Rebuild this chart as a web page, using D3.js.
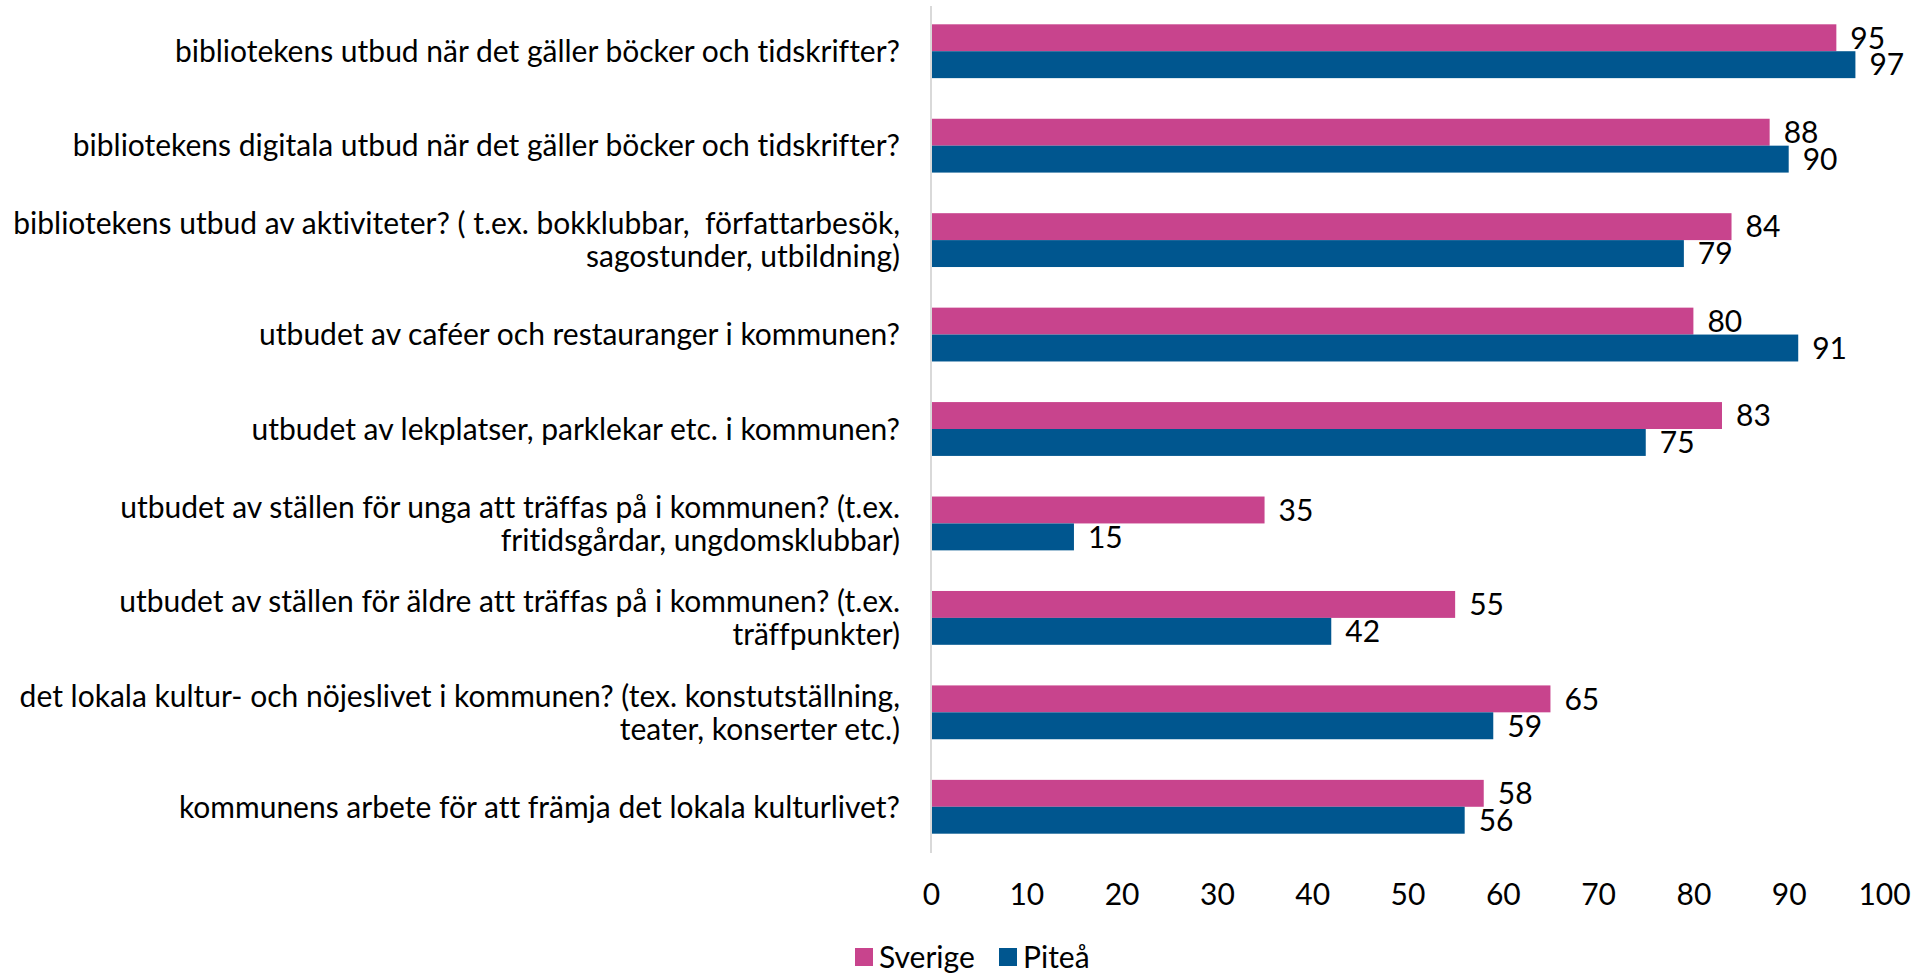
<!DOCTYPE html>
<html><head><meta charset="utf-8">
<script src="https://cdn.jsdelivr.net/npm/d3@7"></script>
<style>
html,body{margin:0;padding:0;background:#fff;}
svg text{font-family:"Lato","Open Sans",sans-serif;fill:#000;font-variant-ligatures:none;font-feature-settings:"liga" 0;}
</style></head>
<body><svg id="c" width="1911" height="973"></svg>
<script>
const categories = [
  "bibliotekens utbud när det gäller böcker och tidskrifter?",
  "bibliotekens digitala utbud när det gäller böcker och tidskrifter?",
  "bibliotekens utbud av aktiviteter? ( t.ex. bokklubbar,  författarbesök,\nsagostunder, utbildning)",
  "utbudet av caféer och restauranger i kommunen?",
  "utbudet av lekplatser, parklekar etc. i kommunen?",
  "utbudet av ställen för unga att träffas på i kommunen? (t.ex.\nfritidsgårdar, ungdomsklubbar)",
  "utbudet av ställen för äldre att träffas på i kommunen? (t.ex.\nträffpunkter)",
  "det lokala kultur- och nöjeslivet i kommunen? (tex. konstutställning,\nteater, konserter etc.)",
  "kommunens arbete för att främja det lokala kulturlivet?"
];
const seriesNames = ["Sverige", "Piteå"];
const sverige = [95, 88, 84, 80, 83, 35, 55, 65, 58];
const pitea = [97, 90, 79, 91, 75, 15, 42, 59, 56];
const tickValues = [0,10,20,30,40,50,60,70,80,90,100];
const colors = ["#C8448D", "#00568F"];

const svg = d3.select("#c");
const fs = 30;
const x = d3.scaleLinear().domain([0,100]).range([931,1884]);
const y = d3.scaleBand().domain(d3.range(categories.length)).range([4,854]).paddingInner(0.43).paddingOuter(0.215);
const ys = d3.scaleBand().domain(seriesNames).range([0,y.bandwidth()]);
const seriesVals = [sverige, pitea];

// axis line
svg.append("line").attr("x1",x(0)).attr("x2",x(0)).attr("y1",6).attr("y2",853)
  .attr("stroke","#D9D9D9").attr("stroke-width",2);

// bars
seriesNames.forEach((s,si)=>{
  const g = svg.append("g");
  g.selectAll("rect").data(seriesVals[si]).join("rect")
    .attr("x",x(0)+1).attr("y",(d,i)=>y(i)+ys(s))
    .attr("width",d=>x(d)-x(0)-1).attr("height",ys.bandwidth())
    .attr("fill",colors[si]);
  g.selectAll("text").data(seriesVals[si]).join("text")
    .attr("x",d=>x(d)+14).attr("y",(d,i)=>y(i)+ys(s)+ys.bandwidth()/2)
    .attr("dy","0.36em").attr("font-size",fs).text(d=>d);
});

// category labels
const lh = 33;
categories.forEach((c,i)=>{
  const lines = c.split("\n");
  const cy = y(i)+y.bandwidth()/2;
  const t = svg.append("text").attr("text-anchor","end").attr("font-size",fs);
  lines.forEach((l,j)=>{
    t.append("tspan").attr("x",900).attr("y",cy+(j-(lines.length-1)/2)*lh).attr("dy","0.36em")
      .style("white-space","pre").text(l);
  });
});

// x axis
const ax = svg.append("g").attr("transform","translate(0,884)")
  .call(d3.axisBottom(x).tickValues(tickValues).tickSize(0).tickPadding(0));
ax.select(".domain").remove();
ax.selectAll("text").attr("font-size",fs).attr("font-family","Lato, 'Open Sans', sans-serif").attr("fill","#000").attr("dy","0.71em");

// legend
const leg = svg.append("g");
const legX = [855, 999];
seriesNames.forEach((s,si)=>{
  leg.append("rect").attr("x",legX[si]).attr("y",948).attr("width",18).attr("height",18).attr("fill",colors[si]);
  leg.append("text").attr("x",legX[si]+24).attr("y",957).attr("dy","0.36em").attr("font-size",fs).text(s);
});
</script></body></html>
